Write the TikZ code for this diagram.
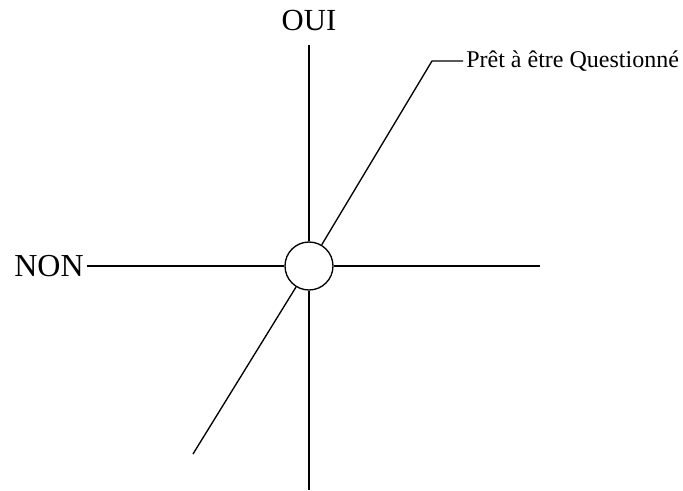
\documentclass[tikz,border=0pt]{standalone}
\usepackage{fontspec}
\setmainfont{Liberation Serif}
\begin{document}
\begin{tikzpicture}[x=0.75pt,y=-0.75pt,line width=1pt]
            \useasboundingbox (0,0) rectangle (683,490);
            \draw (309,266) node[circle,draw,minimum size=36pt,inner sep=0pt] (C) {};
            \draw (309,20) node[font=\fontsize{23}{27}\selectfont] (OUI) {OUI};
            \draw (49,266) node[font=\fontsize{24}{28}\selectfont,inner sep=2pt] (NON) {NON};
            \draw (463,61) node[anchor=west,inner sep=2pt,
            font=\fontsize{18}{21}\selectfont] (Q) {Prêt à être Questionné};
            \coordinate (T) at (309,45);
            \coordinate (B) at (309,490);
            \coordinate (R) at (540,266);
            \coordinate (K) at (432,61);
            \coordinate (D) at (193,454);
            \draw (T)--(C);
            \draw (C)--(B);
            \draw (NON)--(C);
            \draw (C)--(R);
            \draw (C)--(K)--(Q);
            \draw (C)--(D);
            \end{tikzpicture}
\end{document}
